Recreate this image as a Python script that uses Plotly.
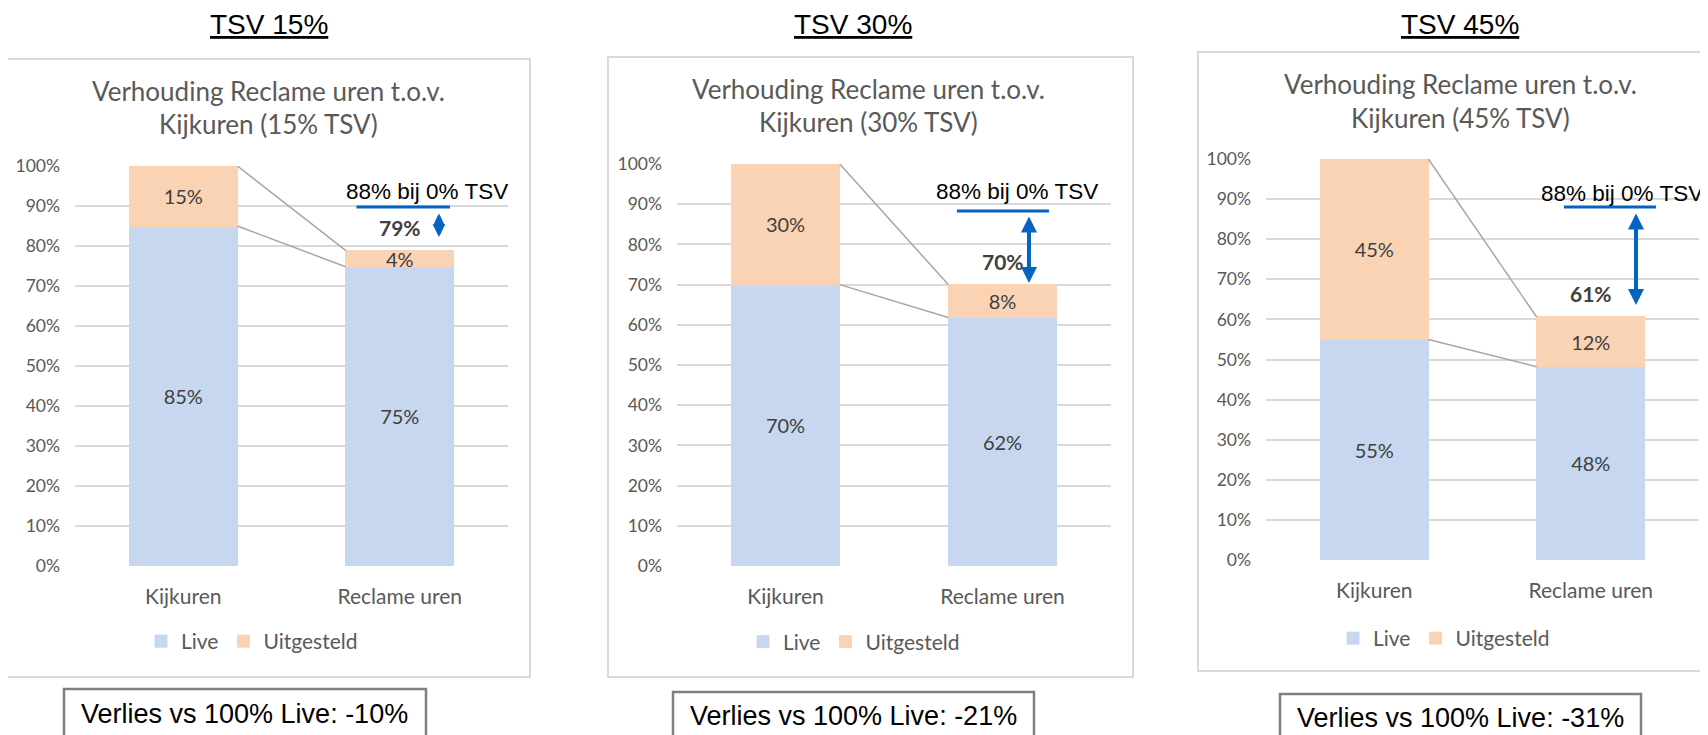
import plotly.graph_objects as go

W, H = 1708, 735

# ---------------- data ----------------
categories = ["Kijkuren", "Reclame uren"]
panel_titles = ["TSV 15%", "TSV 30%", "TSV 45%"]
chart_title_line1 = ["Verhouding Reclame uren t.o.v.",
                     "Verhouding Reclame uren t.o.v.",
                     "Verhouding Reclame uren t.o.v."]
chart_title_line2 = ["Kijkuren (15% TSV)", "Kijkuren (30% TSV)", "Kijkuren (45% TSV)"]
series_names = ["Live", "Uitgesteld"]

live_15 = [0.85, 0.748]
uitgesteld_15 = [0.15, 0.041]
live_30 = [0.70, 0.618]
uitgesteld_30 = [0.30, 0.082]
live_45 = [0.55, 0.482]
uitgesteld_45 = [0.45, 0.124]

reference_label = "88% bij 0% TSV"
verlies = [-0.10, -0.21, -0.31]
y_ticks = [0.0, 0.1, 0.2, 0.3, 0.4, 0.5, 0.6, 0.7, 0.8, 0.9, 1.0]

live_all = [live_15, live_30, live_45]
uitg_all = [uitgesteld_15, uitgesteld_30, uitgesteld_45]

# ---------------- styling / layout positions (pixels) ----------------
LIVE_C = "#C6D7EF"
UITG_C = "#F9D3B3"
GRID_C = "#D9D9D9"
BLUE = "#0563C1"
GRAY_TXT = "#595959"
DARK_TXT = "#404040"
CAL = "Lato"
ARIAL = "Liberation Sans, Arial"
OFF = 8  # page body margin that offsets the figure

panels = [
    dict(px=(75, 508), py=(566, 166), box=(7, 59, 530, 677), sup=(269, 25),
         t1=(268, 90.5), t2=(268, 124), ref_text=(426.5, 191),
         ref_line=(0.80, 1.232, 0.8975), arrow=(1.181, 0.885, 0.8225), arrow_size=0.62,
         legend=(164, 641.5), vbox=(64, 689, 426), vtext=(245, 713.5)),
    dict(px=(677, 1111), py=(566, 164), box=(608, 57, 1133, 677), sup=(853, 25),
         t1=(869, 89), t2=(869, 122), ref_text=(1016.5, 191),
         ref_line=(0.79, 1.214, 0.883), arrow=(1.122, 0.873, 0.704), arrow_size=0.8,
         legend=(766, 642), vbox=(673, 692, 1034), vtext=(853, 716)),
    dict(px=(1266, 1699), py=(560, 159), box=(1198, 52, 1722, 671), sup=(1460, 25),
         t1=(1460, 83.5), t2=(1460, 117.5), ref_text=(1622, 194),
         ref_line=(0.876, 1.301, 0.880), arrow=(1.209, 0.868, 0.636), arrow_size=0.8,
         legend=(1356, 638.5), vbox=(1280, 694, 1641), vtext=(1460, 718)),
]


def fx(p):
    return (p - OFF) / W


def fy(p):
    return 1 - (p - OFF) / H


fig = go.Figure()
shapes = []
annotations = []
BAR_W = 0.5
xpos = [0, 1]

for i, pan in enumerate(panels):
    sfx = "" if i == 0 else str(i + 1)
    xa, ya = "x" + sfx, "y" + sfx
    leg = "legend" + sfx
    live = live_all[i]
    uitg = uitg_all[i]
    totals = [a + b for a, b in zip(live, uitg)]

    for name, vals, col in [(series_names[0], live, LIVE_C), (series_names[1], uitg, UITG_C)]:
        fig.add_trace(go.Bar(
            x=xpos, y=vals, width=BAR_W, name=name,
            marker=dict(color=col, line=dict(width=1, color=col)),
            texttemplate="%{y:.0%}", textposition="inside", insidetextanchor="middle",
            textangle=0, constraintext="none",
            textfont=dict(family=CAL, size=20, color=DARK_TXT),
            xaxis=xa, yaxis=ya, legend=leg, hoverinfo="skip"))

    # series lines connecting the stacked bars
    for pair in (totals, live):
        fig.add_trace(go.Scatter(
            x=[xpos[0] + BAR_W / 2, xpos[1] - BAR_W / 2], y=pair, mode="lines",
            line=dict(color="#A6A6A6", width=1.5), showlegend=False,
            hoverinfo="skip", xaxis=xa, yaxis=ya))

    fig.layout["xaxis" + sfx] = dict(
        domain=[fx(pan["px"][0]), fx(pan["px"][1])], range=[-0.5, 1.5],
        tickvals=xpos, ticktext=categories, showgrid=False, zeroline=False,
        showline=False, ticks="", anchor=ya, fixedrange=True, automargin=False,
        tickfont=dict(family=CAL, size=21, color=GRAY_TXT), ticklabelstandoff=16)
    fig.layout["yaxis" + sfx] = dict(
        domain=[fy(pan["py"][0]), fy(pan["py"][1])], range=[0, 1],
        tickvals=y_ticks, tickformat=".0%", showgrid=True, gridcolor=GRID_C,
        gridwidth=1.5, zeroline=False, showline=False, ticks="", anchor=xa,
        fixedrange=True, automargin=False,
        tickfont=dict(family=CAL, size=17.5, color=GRAY_TXT),
        ticklabelstandoff=14)

    fig.layout[leg] = dict(
        orientation="h", x=fx(pan["legend"][0] - 23), xanchor="left",
        y=fy(pan["legend"][1]), yanchor="middle", bgcolor="rgba(0,0,0,0)",
        font=dict(family=CAL, size=21, color=GRAY_TXT), traceorder="normal",
        itemclick=False, itemdoubleclick=False)

    # chart frame
    b = pan["box"]
    shapes.append(dict(type="rect", xref="paper", yref="paper",
                       x0=fx(b[0]), x1=fx(b[2]), y0=fy(b[3]), y1=fy(b[1]),
                       line=dict(color=GRID_C, width=2), fillcolor="rgba(0,0,0,0)",
                       layer="below"))
    # loss box
    vb = pan["vbox"]
    shapes.append(dict(type="rect", xref="paper", yref="paper",
                       x0=fx(vb[0]), x1=fx(vb[2]), y0=fy(760), y1=fy(vb[1]),
                       line=dict(color="#7F7F7F", width=2.5), fillcolor="rgba(0,0,0,0)"))
    # 88% reference line
    rl = pan["ref_line"]
    shapes.append(dict(type="line", xref=xa, yref=ya, x0=rl[0], x1=rl[1],
                       y0=rl[2], y1=rl[2], line=dict(color=BLUE, width=3)))

    # panel title
    annotations.append(dict(xref="paper", yref="paper", x=fx(pan["sup"][0]), y=fy(pan["sup"][1]),
                            text="<u>" + panel_titles[i] + "</u>", showarrow=False,
                            xanchor="center", yanchor="middle",
                            font=dict(family=ARIAL, size=28, color="black")))
    # chart titles
    for key, txt in (("t1", chart_title_line1[i]), ("t2", chart_title_line2[i])):
        annotations.append(dict(xref="paper", yref="paper", x=fx(pan[key][0]), y=fy(pan[key][1]),
                                text=txt, showarrow=False, xanchor="center", yanchor="middle",
                                font=dict(family=CAL, size=26, color=GRAY_TXT)))
    # reference text
    annotations.append(dict(xref="paper", yref="paper", x=fx(pan["ref_text"][0]),
                            y=fy(pan["ref_text"][1]), text=reference_label, showarrow=False,
                            xanchor="center", yanchor="middle",
                            font=dict(family=ARIAL, size=22.5, color="black")))
    # total label above Reclame uren bar
    annotations.append(dict(xref=xa, yref=ya, x=xpos[1], y=totals[1],
                            text="<b>" + format(totals[1], ".0%") + "</b>", showarrow=False,
                            xanchor="center", yanchor="middle", yshift=23,
                            font=dict(family=CAL, size=21, color=DARK_TXT)))
    # double arrow
    ar = pan["arrow"]
    annotations.append(dict(xref=xa, yref=ya, axref=xa, ayref=ya, x=ar[0], y=ar[2],
                            ax=ar[0], ay=ar[1], text="", showarrow=True,
                            arrowside="end+start", arrowhead=2, startarrowhead=2,
                            arrowwidth=4, arrowsize=pan["arrow_size"],
                            startarrowsize=pan["arrow_size"],
                            arrowcolor=BLUE, standoff=0, startstandoff=0))
    # loss text
    annotations.append(dict(xref="paper", yref="paper", x=fx(pan["vtext"][0]), y=fy(pan["vtext"][1]),
                            text="Verlies vs 100% Live: " + format(verlies[i], ".0%"),
                            showarrow=False, xanchor="center", yanchor="middle",
                            font=dict(family=ARIAL, size=27, color="black")))

fig.update_layout(width=W, height=H, autosize=False,
                  margin=dict(l=0, r=0, t=0, b=0, pad=0, autoexpand=False),
                  paper_bgcolor="white", plot_bgcolor="rgba(0,0,0,0)",
                  barmode="stack", showlegend=True,
                  shapes=shapes, annotations=annotations)

fig.write_html("out.html")
